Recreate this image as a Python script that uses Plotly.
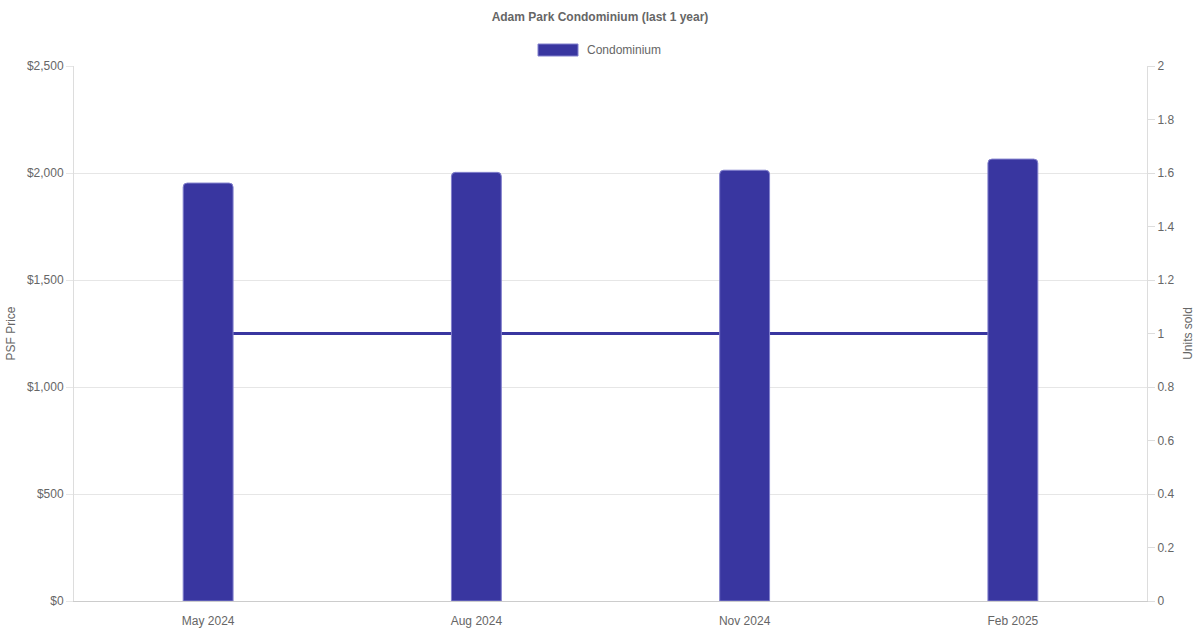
import plotly.graph_objects as go

months = ["May 2024", "Aug 2024", "Nov 2024", "Feb 2025"]
psf_price = [1953, 2003, 2013, 2065]
units_sold = [1, 1, 1, 1]

left_ticks = [0, 500, 1000, 1500, 2000, 2500]
right_ticks = [0, 0.2, 0.4, 0.6, 0.8, 1, 1.2, 1.4, 1.6, 1.8, 2]

BAR = "rgb(57,54,160)"
GRAY = "#666666"
FONT = "Liberation Sans, Arial, sans-serif"

fig = go.Figure()

# Units sold line (drawn underneath, on the base axis shown at right)
fig.add_trace(go.Scatter(
    x=months, y=units_sold, mode="lines", yaxis="y",
    line=dict(color=BAR, width=3), showlegend=False, name="Units sold",
))

# PSF price bars (overlay axis shown at left, drawn on top)
fig.add_trace(go.Bar(
    x=months, y=psf_price, yaxis="y2", width=0.186,
    marker=dict(color=BAR, line=dict(color="rgba(130,128,205,1)", width=1)),
    showlegend=False, name="Condominium",
))

fig.update_layout(
    width=1200, height=630,
    margin=dict(l=74, r=53, t=66, b=29),
    paper_bgcolor="white", plot_bgcolor="white",
    font=dict(family=FONT, size=12, color=GRAY),
    barcornerradius=4,
    title=dict(text="<b>Adam Park Condominium (last 1 year)</b>", x=0.5, xanchor="center",
               y=1 - 17 / 630, yanchor="middle", font=dict(size=12, color=GRAY, family=FONT)),
    xaxis=dict(type="category", range=[-0.5, 3.5], showgrid=False, automargin=False,
               showline=True, linecolor="#cccccc", linewidth=1,
               ticks="outside", ticklen=9, tickcolor="rgba(0,0,0,0)",
               tickfont=dict(size=12, color=GRAY), zeroline=False),
    yaxis=dict(side="right", range=[0, 2], tickvals=right_ticks,
               ticktext=[f"{v:g}" for v in right_ticks], automargin=False,
               showgrid=False, showline=True, linecolor="#dddddd", linewidth=1,
               ticks="outside", ticklen=7, tickcolor="#dddddd",
               tickfont=dict(size=12, color=GRAY), zeroline=False,
               title=dict(text="Units sold", font=dict(size=12, color=GRAY), standoff=10)),
    yaxis2=dict(side="left", overlaying="y", range=[0, 2500], tickvals=left_ticks,
                ticktext=[f"${v:,}" for v in left_ticks], automargin=False,
                showgrid=True, gridcolor="#e6e6e6", gridwidth=1,
                showline=True, linecolor="#dddddd", linewidth=1,
                ticks="outside", ticklen=7, tickcolor="#e6e6e6",
                tickfont=dict(size=12, color=GRAY), zeroline=False,
                title=dict(text="PSF Price", font=dict(size=12, color=GRAY), standoff=8)),
    shapes=[dict(type="rect", xref="paper", yref="paper",
                 x0=(538 - 74) / 1073, x1=(578 - 74) / 1073,
                 y0=(601 - 56) / 535, y1=(601 - 44) / 535,
                 fillcolor=BAR, line=dict(color="rgba(130,128,205,1)", width=1))],
    annotations=[dict(text="Condominium", xref="paper", yref="paper",
                      x=(585 - 74) / 1073, y=(601 - 50) / 535,
                      xanchor="left", yanchor="middle", showarrow=False,
                      font=dict(size=12, color=GRAY, family=FONT))],
)

fig.write_html("out.html", config={"displayModeBar": False},
               post_script="document.body.style.margin='0';")
